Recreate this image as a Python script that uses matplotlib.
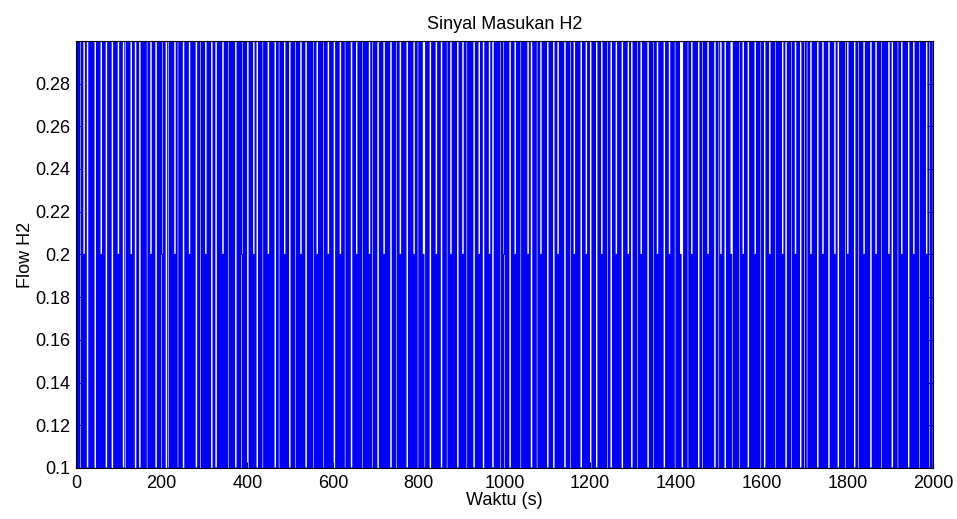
import numpy as np
import matplotlib
matplotlib.use("Agg")
import matplotlib.pyplot as plt
from matplotlib.ticker import FormatStrFormatter

# level codes, one char per 2 s sample: 1 -> 0.1, 2 -> 0.2, 3 -> 0.3
level_rows = [
    "31313313121311131313133313131213131113131333131312",
    "13131113313131213133313111313131331312131311131313",
    "21313331131313121311313133313131213131311131331313",
    "12131313331311131313121313133131313111313132131313",
    "33131312131113131331313121313131113133131312131311",
    "13131331313121313111313131331312131313113131213131",
    "33313131213131131313111313121313133131313121311313",
    "13331313121313131113131331312131313111313131213133",
    "13131211313133313131213131113131331312131313111313",
    "12131331313131113131213133313131213111313131331312",
    "31313111313121313133131313121311131313313121313131",
    "11313133313121313131113131331312131313111313121313",
    "33131311131312131313313111313121313133313131213111",
    "31313313121313131113131331312131313111313121313133",
    "13131211131313313121313131113133131312131313111313",
    "31213133313131211313131331312131311131313121313133",
    "13111313121313133131313121311131313313121313111313",
    "31331312131313111313121313133313131213111313131331",
    "21313131113133131312131313111313121313133131313121",
    "31113131331312131313111313121313133131313121311313",
]
level_values = {"1": 0.1, "2": 0.2, "3": 0.3}
sample_time = 2.0

x_ticks = [0, 200, 400, 600, 800, 1000, 1200, 1400, 1600, 1800, 2000]
y_ticks = [0.1, 0.12, 0.14, 0.16, 0.18, 0.2, 0.22, 0.24, 0.26, 0.28]

codes = "".join(level_rows)
flow = np.array([level_values[c] for c in codes])
t = np.arange(len(flow)) * sample_time

plt.rcParams['font.family'] = ['Liberation Sans', 'DejaVu Sans']

fig = plt.figure(figsize=(9.57, 5.19), dpi=100)
ax = fig.add_axes([0.0794, 0.0983, 0.8956, 0.8227])

ax.plot(t, flow, color=(0, 0, 1), linewidth=0.8, drawstyle='steps-post')

ax.set_xlim(0, 2000)
ax.set_ylim(0.1, 0.2999)
ax.set_xticks(x_ticks)
ax.set_yticks(y_ticks)
ax.yaxis.set_major_formatter(FormatStrFormatter('%g'))
ax.tick_params(direction='in', labelsize=13, length=4, top=False, right=True)
ax.tick_params(axis='x', pad=5)
ax.tick_params(axis='y', pad=4)

ax.set_title("Sinyal Masukan H2", fontsize=13, pad=9)
ax.set_xlabel("Waktu (s)", fontsize=13, labelpad=0)
ax.set_ylabel("Flow H2", fontsize=13, labelpad=1)

fig.savefig("out.png", dpi=100)
